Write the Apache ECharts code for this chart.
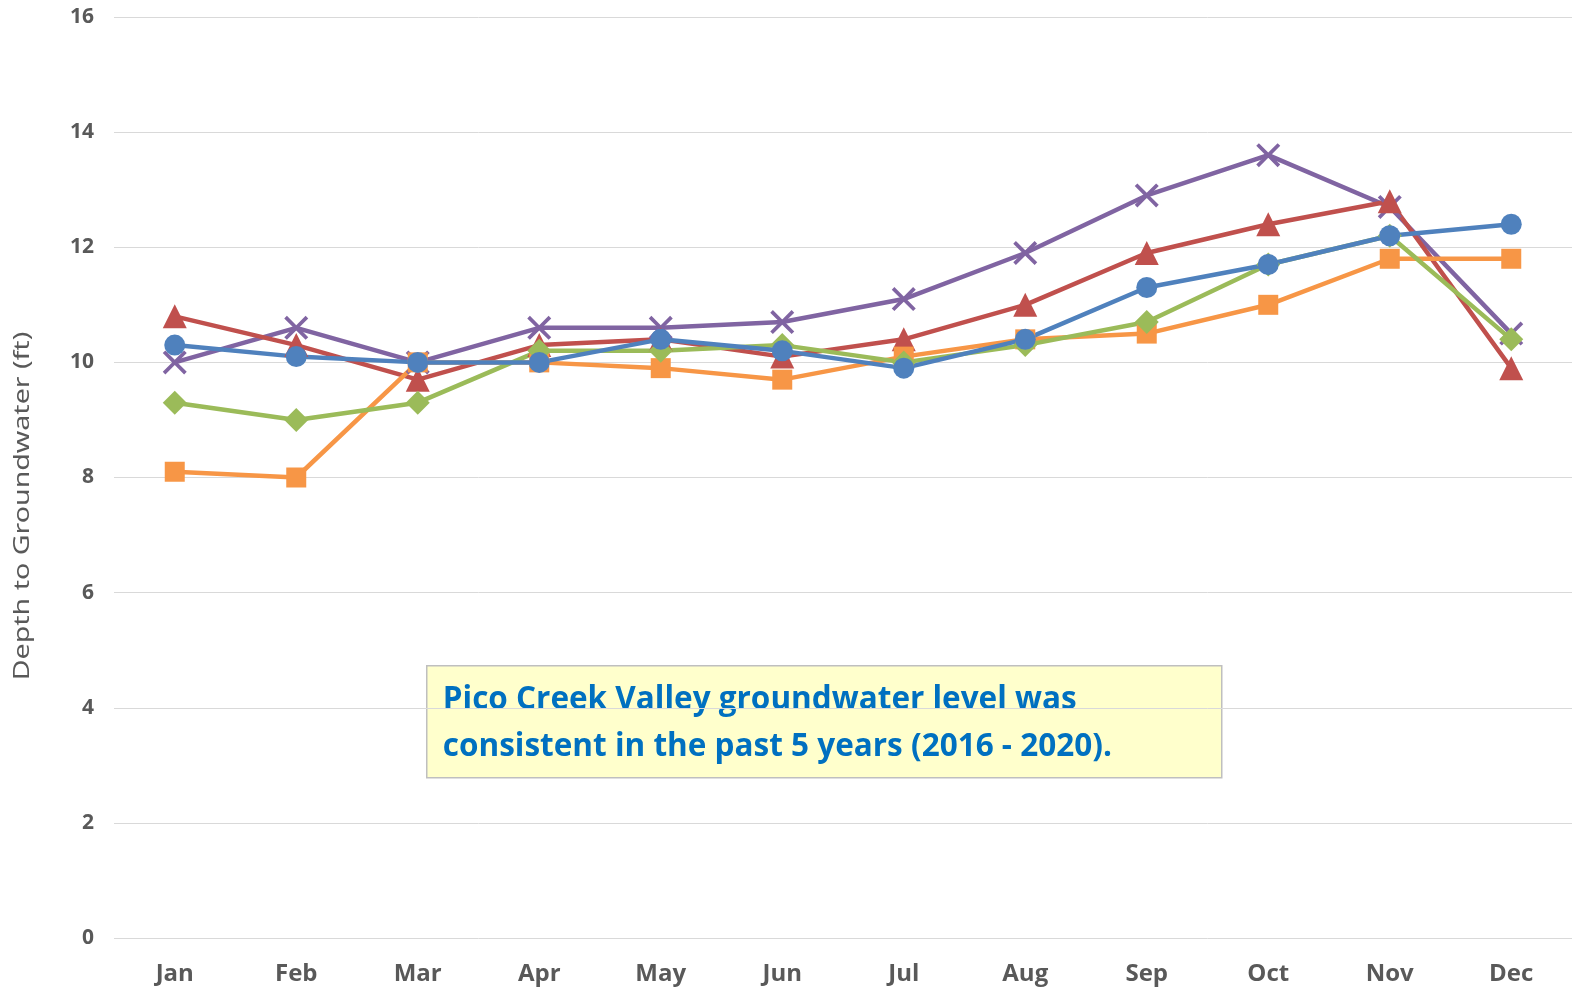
<!DOCTYPE html>
<html>
<head>
<meta charset="utf-8">
<script src="https://cdn.jsdelivr.net/npm/echarts@6/dist/echarts.min.js"></script>
<style>
html,body{margin:0;padding:0;background:#fff;}
#chart{width:1585px;height:996px;}
</style>
</head>
<body>
<div id="chart"></div>
<script>
const months = ['Jan','Feb','Mar','Apr','May','Jun','Jul','Aug','Sep','Oct','Nov','Dec'];
const yTicks = [0, 2, 4, 6, 8, 10, 12, 14, 16];
const seriesPurple = [10.0, 10.6, 10.0, 10.6, 10.6, 10.7, 11.1, 11.9, 12.9, 13.6, 12.7, 10.5];
const seriesRed    = [10.8, 10.3, 9.7, 10.3, 10.4, 10.1, 10.4, 11.0, 11.9, 12.4, 12.8, 9.9];
const seriesOrange = [8.1, 8.0, 10.0, 10.0, 9.9, 9.7, 10.1, 10.4, 10.5, 11.0, 11.8, 11.8];
const seriesGreen  = [9.3, 9.0, 9.3, 10.2, 10.2, 10.3, 10.0, 10.3, 10.7, 11.7, 12.2, 10.4];
const seriesBlue   = [10.3, 10.1, 10.0, 10.0, 10.4, 10.2, 9.9, 10.4, 11.3, 11.7, 12.2, 12.4];
const yAxisTitle = 'Depth to Groundwater (ft)';
const noteLines = ['Pico Creek Valley groundwater level was', 'consistent in the past 5 years (2016 - 2020).'];

const xPath = 'path://M0,1.1 L1.1,0 L5,3.9 L8.9,0 L10,1.1 L6.1,5 L10,8.9 L8.9,10 L5,6.1 L1.1,10 L0,8.9 L3.9,5 Z';

function mk(name, data, color, symbol, size) {
  return {
    name: name, type: 'line', data: data,
    symbol: symbol, symbolSize: size, showSymbol: true,
    lineStyle: {color: color, width: 4.5},
    itemStyle: {color: color},
    emphasis: {disabled: true},
    animation: false
  };
}

const chart = echarts.init(document.getElementById('chart'));
chart.setOption({
  backgroundColor: '#ffffff',
  animation: false,
  grid: {left: 114, right: 13, top: 17, bottom: 58, containLabel: false},
  xAxis: {
    type: 'category', data: months, boundaryGap: true,
    axisLine: {show: false}, axisTick: {show: false},
    axisLabel: {color: '#595959', fontSize: 24, fontWeight: 'bold', fontFamily: '"Open Sans", "Noto Sans", sans-serif', margin: 24},
    splitLine: {show: false}
  },
  yAxis: {
    type: 'value', min: yTicks[0], max: yTicks[yTicks.length - 1], interval: 2,
    axisLine: {show: false}, axisTick: {show: false},
    axisLabel: {color: '#595959', fontSize: 21, fontWeight: 'bold', fontFamily: '"Open Sans", "Noto Sans", sans-serif', margin: 20},
    splitLine: {lineStyle: {color: '#D9D9D9', width: 1}}
  },
  graphic: [
    {
      type: 'text', x: 23, y: 506, rotation: Math.PI / 2, scaleX: 1.36, scaleY: 1,
      style: {text: yAxisTitle, fill: '#595959', font: '21px "Noto Sans", sans-serif', textAlign: 'center', textVerticalAlign: 'middle'}
    },
    {
      type: 'group', left: 426, top: 665,
      children: [
        {type: 'rect', shape: {x: 0, y: 0, width: 795, height: 112},
         style: {fill: '#FFFFCC', stroke: '#BFBFBF', lineWidth: 1.5}},
        {type: 'text', x: 16, y: 34,
         style: {text: noteLines[0], fill: '#0070C0', font: 'bold 31.5px "Open Sans", "Noto Sans", sans-serif', textVerticalAlign: 'middle'}},
        {type: 'text', x: 16, y: 81,
         style: {text: noteLines[1], fill: '#0070C0', font: 'bold 31.5px "Open Sans", "Noto Sans", sans-serif', textVerticalAlign: 'middle'}}
      ]
    }
  ],
  series: [
    mk('Series 5', seriesPurple, '#8064A2', xPath, 24),
    mk('Series 4', seriesRed, '#C0504D', 'triangle', 24),
    mk('Series 2', seriesOrange, '#F79646', 'rect', 20),
    mk('Series 3', seriesGreen, '#9BBB59', 'diamond', 24),
    mk('Series 1', seriesBlue, '#4F81BD', 'circle', 21)
  ]
});
</script>
</body>
</html>
